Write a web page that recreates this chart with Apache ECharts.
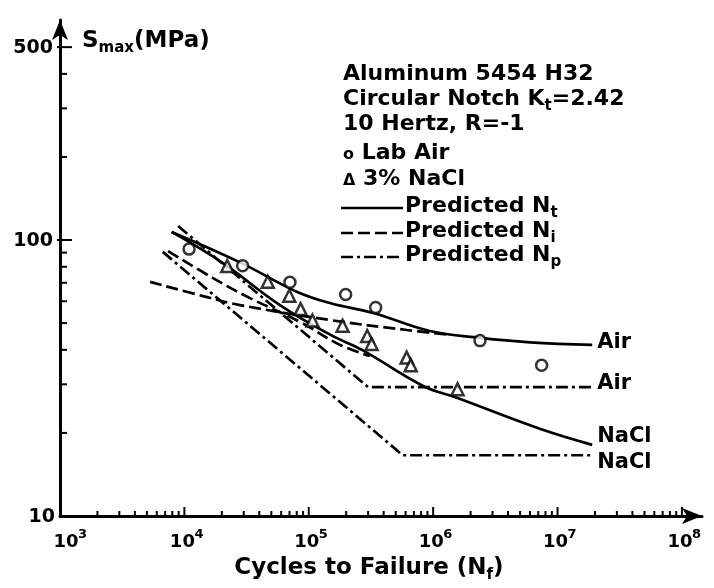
<!DOCTYPE html>
<html>
<head>
<meta charset="utf-8">
<script src="https://cdn.jsdelivr.net/npm/echarts@6/dist/echarts.min.js"></script>
<style>
  html, body { margin: 0; padding: 0; background: #fff; }
  #chart { width: 714px; height: 588px; }
</style>
</head>
<body>
<div id="chart"></div>
<script>
// ---- Test results: Aluminum 5454 H32, circular notch Kt = 2.42 ----
// Lab air specimens (circles)
const airCycles = [1.09e4, 2.94e4, 7.06e4, 1.98e5, 3.45e5, 2.38e6, 7.45e6];
const airStress = [92.7, 80.7, 70.3, 63.5, 56.9, 43.2, 35.2];

// 3% NaCl specimens (triangles)
const saltCycles = [2.21e4, 4.68e4, 6.97e4, 8.6e4, 1.07e5, 1.87e5, 2.95e5, 3.2e5, 6.12e5, 6.6e5, 1.57e6];
const saltStress = [80.5, 70.6, 62.8, 56.2, 51.1, 48.9, 44.9, 42.0, 37.5, 35.2, 28.8];

// Predicted total life Nt
const ntAirCycles = [7.9e3, 2.8e4, 8.0e4, 1.5e5, 3.3e5, 9.4e5, 2.4e6, 6.0e6, 1.9e7];
const ntAirStress = [107, 83, 65, 59, 54.4, 46.8, 44.2, 42.6, 41.7];
const ntSaltCycles = [7.9e3, 2.0e4, 5.9e4, 1.5e5, 2.7e5, 8.3e5, 1.55e6, 7.2e6, 1.9e7];
const ntSaltStress = [107, 83, 58, 45.3, 39.9, 29.6, 26.8, 20.7, 18.1];

// Predicted initiation life Ni
const niAirCycles = [5.3e3, 1.52e4, 2.8e4, 1.48e5, 6.15e5, 1.36e6];
const niAirStress = [70.5, 62.1, 58.1, 51.3, 47.2, 45.4];
const niSaltCycles = [7.4e3, 1.7e4, 3.37e4, 8.5e4, 1.78e5, 3.1e5];
const niSaltStress = [91.2, 72.8, 61.6, 50.5, 41.7, 38.0];

// Predicted propagation life Np (straight line down to a threshold plateau)
const npAirCycles = [8.9e3, 3.0e5, 1.9e7];
const npAirStress = [112.5, 29.3, 29.3];
const npSaltCycles = [6.7e3, 5.7e5, 1.9e7];
const npSaltStress = [90.6, 16.6, 16.6];

// Axis ticks
const xMajorTicks = [1e3, 1e4, 1e5, 1e6, 1e7, 1e8];
const xTickExponents = ['3', '4', '5', '6', '7', '8'];
const xMinorSteps = [2, 3, 4, 5, 6, 7, 8, 9];
const yMajorTicks = [10, 100, 500];
const yTickLabels = ['10', '100', '500'];
const yMinorTicks = [20, 30, 40, 50, 60, 70, 80, 90, 200, 300, 400];

// Axis extents (the extra room beyond 1e8 / 500 carries the arrow heads)
const X_MIN = 1e3, X_MAX = 1.45e8, Y_MIN = 10, Y_MAX = 627;

const FONT = '"DejaVu Sans", sans-serif';
const INK = '#000';
const DASHED = [12, 5];
const DASH_DOT = [12, 4, 3, 4];

const pairs = (xs, ys) => xs.map((x, i) => [x, ys[i]]);

const xMinorTicks = [];
xMajorTicks.slice(0, -1).forEach(d => xMinorSteps.forEach(s => xMinorTicks.push(d * s)));
const xTickRows = xMajorTicks.map(v => [v, Y_MIN, 1]).concat(xMinorTicks.map(v => [v, Y_MIN, 0]));
const yTickRows = yMajorTicks.map(v => [X_MIN, v, 1]).concat(yMinorTicks.map(v => [X_MIN, v, 0]));

function renderXTick(params, api) {
  const v = api.value(0);
  const major = api.value(2);
  const p = api.coord([v, Y_MIN]);
  const len = major ? 9 : 5;
  const children = [{
    type: 'line',
    shape: { x1: p[0], y1: p[1], x2: p[0], y2: p[1] - len },
    style: { stroke: INK, lineWidth: 2 }
  }];
  if (major) {
    const exp = xTickExponents[xMajorTicks.indexOf(v)];
    // the first label sits clear of the axis corner
    const cx = p[0] - 2 + (v === X_MIN ? 8 : 0);
    children.push({
      type: 'text', x: cx, y: p[1] + 26,
      style: { text: '10', font: 'bold 18px ' + FONT, fill: INK, align: 'center', verticalAlign: 'middle' }
    });
    children.push({
      type: 'text', x: cx + 12, y: p[1] + 19,
      style: { text: exp, font: 'bold 13px ' + FONT, fill: INK, align: 'left', verticalAlign: 'middle' }
    });
  }
  return { type: 'group', children };
}

function renderYTick(params, api) {
  const v = api.value(1);
  const major = api.value(2);
  const p = api.coord([X_MIN, v]);
  const children = [];
  if (v !== Y_MIN) {
    children.push({
      type: 'line',
      shape: { x1: p[0] - (major ? 3 : 0), y1: p[1], x2: p[0] + (major ? 12 : 7), y2: p[1] },
      style: { stroke: INK, lineWidth: 2 }
    });
  }
  if (major) {
    children.push({
      type: 'text', x: p[0] - (v === Y_MIN ? 5 : 7), y: p[1] + 1,
      style: { text: yTickLabels[yMajorTicks.indexOf(v)], font: 'bold 19px ' + FONT, fill: INK, align: 'right', verticalAlign: 'middle' }
    });
  }
  return { type: 'group', children };
}

function curve(name, xs, ys, dash, smooth, endText, endOffset) {
  const s = {
    name, type: 'line', data: pairs(xs, ys), showSymbol: false, smooth,
    lineStyle: { color: INK, width: 2.7, type: dash },
    silent: true, z: 3
  };
  if (endText) {
    s.endLabel = {
      show: true, formatter: endText, distance: 5, offset: endOffset,
      color: INK, fontFamily: FONT, fontWeight: 'bold', fontSize: 21
    };
  }
  return s;
}

// rich-text styles: n = normal run, s = subscript, sm = small symbol
function richSet(size) {
  const sub = Math.round(size * 0.67);
  return {
    n: { fontFamily: FONT, fontWeight: 'bold', fontSize: size, lineHeight: size + 3, verticalAlign: 'top', fill: INK },
    s: { fontFamily: FONT, fontWeight: 'bold', fontSize: sub, lineHeight: sub, padding: [size - 7, 0, 0, 0], verticalAlign: 'bottom', fill: INK },
    sm: { fontFamily: FONT, fontWeight: 'bold', fontSize: 16, lineHeight: size + 3, verticalAlign: 'middle', fill: INK }
  };
}
const RICH_NOTE = richSet(22);
const RICH_TITLE = richSet(23);

function note(x, y, text, rich, align) {
  return {
    type: 'text', x, y, silent: true,
    style: { text, rich: rich || RICH_NOTE, fill: INK, align: align || 'left', verticalAlign: 'middle' }
  };
}
function sample(y, dash) {
  return {
    type: 'line', silent: true,
    shape: { x1: 341, y1: y, x2: 403, y2: y },
    style: { stroke: INK, lineWidth: 2.7, lineDash: dash }
  };
}

const chart = echarts.init(document.getElementById('chart'), null, { renderer: 'canvas' });

chart.setOption({
  animation: false,
  backgroundColor: '#fff',
  grid: { left: 60, right: 12, top: 20, bottom: 72, containLabel: false },
  xAxis: {
    type: 'log', logBase: 10, min: X_MIN, max: X_MAX,
    axisLine: { show: true, symbol: ['none', 'arrow'], symbolSize: [12, 20], lineStyle: { color: INK, width: 3 } },
    axisTick: { show: false }, axisLabel: { show: false }, splitLine: { show: false }, minorTick: { show: false }
  },
  yAxis: {
    type: 'log', logBase: 10, min: Y_MIN, max: Y_MAX,
    axisLine: { show: true, symbol: ['none', 'arrow'], symbolSize: [12, 20], lineStyle: { color: INK, width: 3 } },
    axisTick: { show: false }, axisLabel: { show: false }, splitLine: { show: false }, minorTick: { show: false }
  },
  graphic: [
    note(82, 43, '{n|S}{s|max}{n|(MPa)}', RICH_TITLE),
    note(343, 76, '{n|Aluminum 5454 H32}'),
    note(343, 101, '{n|Circular Notch K}{s|t}{n|=2.42}'),
    note(343, 126, '{n|10 Hertz, R=-1}'),
    note(343, 155, '{sm|o}{n| Lab Air}'),
    note(343, 181, '{sm|Δ}{n| 3% NaCl}'),
    sample(208, null),
    note(405, 208, '{n|Predicted N}{s|t}'),
    sample(233, DASHED),
    note(405, 233, '{n|Predicted N}{s|i}'),
    sample(257, DASH_DOT),
    note(405, 257, '{n|Predicted N}{s|p}'),
    note(369, 570, '{n|Cycles to Failure (N}{s|f}{n|)}', RICH_TITLE, 'center')
  ],
  series: [
    { type: 'custom', name: 'x ticks', data: xTickRows, renderItem: renderXTick, silent: true, z: 5 },
    { type: 'custom', name: 'y ticks', data: yTickRows, renderItem: renderYTick, silent: true, z: 5 },
    curve('Predicted Nt, air', ntAirCycles, ntAirStress, 'solid', 0.4, 'Air', [0, -2]),
    curve('Predicted Nt, NaCl', ntSaltCycles, ntSaltStress, 'solid', 0.4, 'NaCl', [0, -8]),
    curve('Predicted Ni, air', niAirCycles, niAirStress, DASHED, 0.4),
    curve('Predicted Ni, NaCl', niSaltCycles, niSaltStress, DASHED, 0.4),
    curve('Predicted Np, air', npAirCycles, npAirStress, DASH_DOT, false, 'Air', [0, -4]),
    curve('Predicted Np, NaCl', npSaltCycles, npSaltStress, DASH_DOT, false, 'NaCl', [0, 7]),
    {
      name: 'Lab Air', type: 'scatter', data: pairs(airCycles, airStress),
      symbol: 'circle', symbolSize: 11,
      itemStyle: { color: '#fff', borderColor: INK, borderWidth: 2.5 }, z: 4, silent: true
    },
    {
      name: '3% NaCl', type: 'scatter', data: pairs(saltCycles, saltStress),
      symbol: 'triangle', symbolSize: 12,
      itemStyle: { color: '#fff', borderColor: INK, borderWidth: 2.5 }, z: 4, silent: true
    }
  ]
});
</script>
</body>
</html>
